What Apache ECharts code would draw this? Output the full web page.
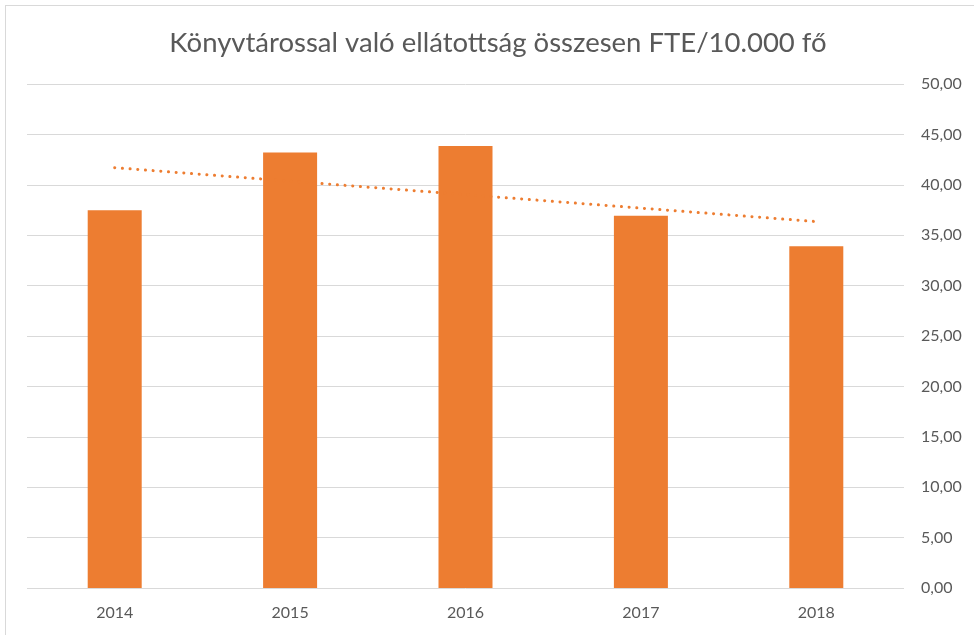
<!DOCTYPE html>
<html>
<head>
<meta charset="utf-8">
<script src="https://cdn.jsdelivr.net/npm/echarts@6/dist/echarts.min.js"></script>
<style>
  html, body { margin: 0; padding: 0; background: #fff; overflow: hidden; }
  #chart { width: 974px; height: 635px; }
  .frame { position: absolute; left: 5px; top: 5px; width: 1000px; height: 700px; border: 1px solid #d9d9d9; pointer-events: none; }
</style>
</head>
<body>
<div id="chart"></div>
<div class="frame"></div>
<script>
  // adatok
  const years = ['2014', '2015', '2016', '2017', '2018'];
  const fteValues = [37.47, 43.2, 43.85, 36.94, 33.9];
  // lineáris trendvonal végpontjai (2014 és 2018)
  const trendStart = 41.7;
  const trendEnd = 36.35;
  const yTicks = { min: 0, max: 50, interval: 5 };

  const chart = echarts.init(document.getElementById('chart'));
  const fmt = v => v.toFixed(2).replace('.', ',');
  const textColor = '#595959';
  const fontFamily = 'Lato, "Open Sans", sans-serif';

  chart.setOption({
    animation: false,
    title: {
      text: 'Könyvtárossal való ellátottság összesen FTE/10.000 fő',
      left: 493,
      top: 24,
      textAlign: 'center',
      textStyle: { color: textColor, fontSize: 27.5, fontWeight: 'normal', fontFamily: fontFamily }
    },
    grid: { left: 27, right: 70, top: 84, bottom: 47 },
    xAxis: {
      type: 'category',
      data: years,
      axisLine: { show: false },
      axisTick: { show: false },
      axisLabel: { color: textColor, fontSize: 16, margin: 17, fontFamily: fontFamily }
    },
    yAxis: {
      type: 'value',
      position: 'right',
      min: yTicks.min,
      max: yTicks.max,
      interval: yTicks.interval,
      axisLine: { show: false },
      axisTick: { show: false },
      splitLine: { lineStyle: { color: '#d9d9d9', width: 1 } },
      axisLabel: { color: textColor, fontSize: 16, margin: 17, fontFamily: fontFamily, formatter: fmt }
    },
    series: [
      {
        type: 'bar',
        data: fteValues,
        barWidth: 54,
        itemStyle: { color: '#ED7D31' }
      },
      {
        type: 'line',
        data: [[0, trendStart], [years.length - 1, trendEnd]],
        symbol: 'none',
        silent: true,
        lineStyle: { color: '#ED7D31', width: 3, type: [0.1, 7.6], cap: 'round' }
      }
    ]
  });
</script>
</body>
</html>
